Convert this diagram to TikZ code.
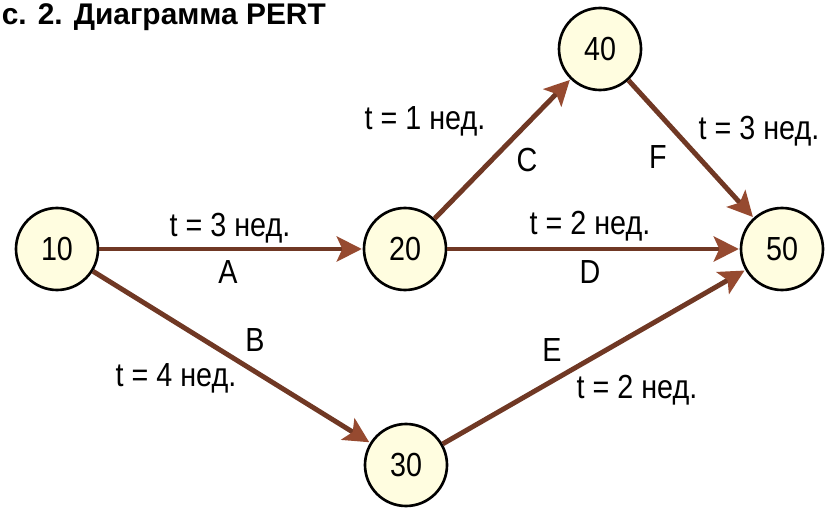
\documentclass[tikz,border=0pt]{standalone}
\usepackage{fontspec}
\setmainfont{Liberation Sans}
\newfontfamily\narrowfont[FakeStretch=0.86]{Liberation Sans}
\usetikzlibrary{arrows.meta,positioning}
\definecolor{cedge}{RGB}{112, 56, 36}
\definecolor{chead}{RGB}{150, 74, 48}
\definecolor{cfill}{RGB}{255, 253, 224}
\tikzset{
	>={Stealth[length=5mm, width=5mm, inset=1.1mm, color=chead]},
}
\begin{document}
\begin{tikzpicture}[%
		event/.style={draw, circle, line width=1.5pt, fill=cfill, minimum size=1.64cm, inner sep=0pt, font=\narrowfont\fontsize{19}{21}\selectfont},%
		job/.style={->, line width=2.8pt, draw=cedge, shorten >=0.5pt},%
		lbl/.style={inner sep=0pt, font=\narrowfont\fontsize{19}{21}\selectfont}]
	\useasboundingbox (0,0) rectangle (16.66,10.16);

	\node[anchor=west, inner sep=0pt, font=\bfseries\fontsize{17}{19}\selectfont] (title) at (0.03,9.82) {с. 2. Диаграмма PERT};

	\node[event] (n10) at (1.14,5.18) {10};
	\node[event] (n20) at (8.10,5.18) {20};
	\node[event] (n40) at (12.00,9.18) {40};
	\node[event] (n50) at (15.64,5.18) {50};
	\node[event] (n30) at (8.12,0.86) {30};

	\draw[job] (n10) -- (n20);
	\draw[job] (n10) -- (n30);
	\draw[job] (n20) -- (n40);
	\draw[job] (n20) -- (n50);
	\draw[job] (n30) -- (n50);
	\draw[job] (n40) -- (n50);

	\node[lbl] (tA) at (4.60,5.60) {t = 3 нед.};
	\node[lbl] (jA) at (4.56,4.72) {A};
	\node[lbl] (tB) at (3.52,2.60) {t = 4 нед.};
	\node[lbl] (jB) at (5.10,3.36) {B};
	\node[lbl] (tC) at (8.50,7.74) {t = 1 нед.};
	\node[lbl] (jC) at (10.54,6.96) {C};
	\node[lbl] (tD) at (11.80,5.64) {t = 2 нед.};
	\node[lbl] (jD) at (11.80,4.72) {D};
	\node[lbl] (tE) at (12.74,2.36) {t = 2 нед.};
	\node[lbl] (jE) at (11.04,3.16) {E};
	\node[lbl] (tF) at (15.18,7.54) {t = 3 нед.};
	\node[lbl] (jF) at (13.16,7.02) {F};
\end{tikzpicture}
\end{document}
